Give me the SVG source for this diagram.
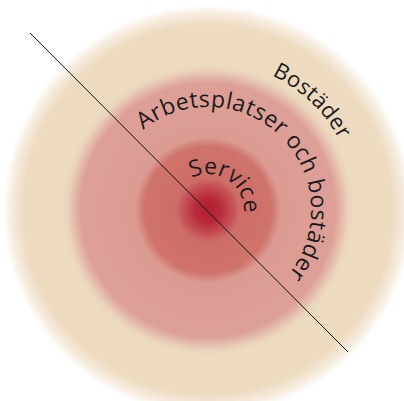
<svg xmlns="http://www.w3.org/2000/svg" width="404" height="401" viewBox="0 0 404 401">
  <style>
    .lbl { font-family: "Open Sans", "DejaVu Sans", sans-serif; fill: #1f1b1c; font-weight: 500; }
  </style>
  <defs>
    <radialGradient id="zones" gradientUnits="userSpaceOnUse" cx="208" cy="210" r="205">
      <stop offset="0" stop-color="#B01E31"/>
      <stop offset="0.06" stop-color="#B7293A"/>
      <stop offset="0.125" stop-color="#C65358"/>
      <stop offset="0.155" stop-color="#CD6D67"/>
      <stop offset="0.31" stop-color="#CF746C"/>
      <stop offset="0.355" stop-color="#DB9B92"/>
      <stop offset="0.62" stop-color="#DDA097"/>
      <stop offset="0.685" stop-color="#EAD3BC"/>
      <stop offset="0.71" stop-color="#EDDBC0"/>
      <stop offset="0.9" stop-color="#EDDBC0"/>
      <stop offset="0.96" stop-color="#F6EDE0"/>
      <stop offset="1" stop-color="#FFFFFF"/>
    </radialGradient>
    <path id="arcBostader" d="M272.1,75.5 A149,149 0 0 1 354.7,235.9"/>
    <path id="arcArbets" d="M143.2,130 A103,103 0 1 1 225.9,311.4"/>
    <path id="arcService" d="M191.7,177.9 A36,36 0 0 1 235.6,233.1"/>
  </defs>
  <rect width="404" height="401" fill="#FFFFFF"/>
  <g id="zones-rings">
    <circle cx="208" cy="210" r="205" fill="url(#zones)"/>
  </g>
  <g id="connectors">
    <line x1="30" y1="33" x2="348" y2="352" stroke="#111" stroke-width="1"/>
  </g>
  <g id="label-bostader">
    <text class="lbl" font-size="22" letter-spacing="0.2"><textPath href="#arcBostader">Bostäder</textPath></text>
  </g>
  <g id="label-arbetsplatser">
    <text class="lbl" font-size="23" letter-spacing="0.4"><textPath href="#arcArbets">Arbetsplatser och bostäder</textPath></text>
  </g>
  <g id="label-service">
    <text class="lbl" font-size="23"><textPath href="#arcService">Service</textPath></text>
  </g>
</svg>
